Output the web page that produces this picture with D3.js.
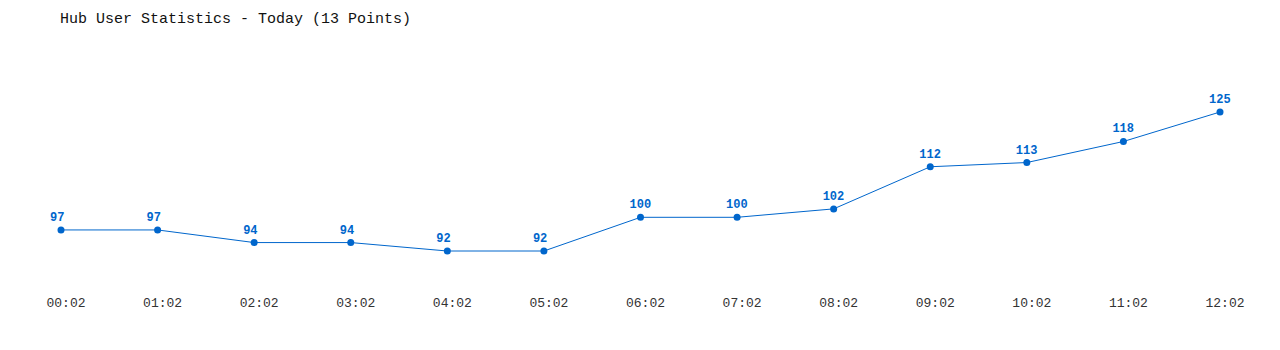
<!DOCTYPE html>
<html>
<head>
<meta charset="utf-8">
<script src="https://cdn.jsdelivr.net/npm/d3@7"></script>
<style>
  body { margin: 0; background: #fff; }
  text { font-family: "Liberation Mono", "DejaVu Sans Mono", monospace; }
  .title { font-size: 15px; fill: #111; }
  .tick-label { font-size: 13px; fill: #333; }
  .val { font-size: 12px; font-weight: bold; fill: #0066cc; }
</style>
</head>
<body>
<svg id="chart"></svg>
<script>
var times = ["00:02","01:02","02:02","03:02","04:02","05:02","06:02","07:02","08:02","09:02","10:02","11:02","12:02"];
var users = [97, 97, 94, 94, 92, 92, 100, 100, 102, 112, 113, 118, 125];

var width = 1280, height = 350;

var svg = d3.select("#chart")
  .attr("width", width)
  .attr("height", height);

svg.append("text")
  .attr("class", "title")
  .attr("x", 60)
  .attr("y", 23)
  .text("Hub User Statistics - Today (13 Points)");

var xscale = d3.scalePoint()
  .domain(times)
  .range([61, 1220]);

var yscale = d3.scaleLinear()
  .domain([d3.min(users), d3.max(users)])
  .range([251, 112]);

var data = times.map(function(t, i){ return {t: t, v: users[i]}; });

// x labels (left aligned a bit before each point, like the original)
var xaxis = d3.axisBottom(xscale).tickSize(0).tickPadding(0);
var ax = svg.append("g")
  .attr("transform", "translate(0,298)")
  .call(xaxis);
ax.select(".domain").remove();
ax.selectAll("text")
  .attr("class", "tick-label")
  .attr("dy", "0.71em")
  .attr("y", 0)
  .attr("x", -15)
  .attr("text-anchor", "start")
  .style("font-family", null)
  .style("font-size", null)
  .attr("fill", null);
ax.attr("font-family", null).attr("font-size", null).attr("text-anchor", null);

var line = d3.line()
  .x(function(d){ return xscale(d.t); })
  .y(function(d){ return yscale(d.v); });

svg.append("path")
  .datum(data)
  .attr("d", line)
  .attr("fill", "none")
  .attr("stroke", "#0066cc")
  .attr("stroke-width", 1);

svg.selectAll("circle.dot")
  .data(data)
  .enter()
  .append("circle")
  .attr("class", "dot")
  .attr("cx", function(d){ return xscale(d.t); })
  .attr("cy", function(d){ return yscale(d.v); })
  .attr("r", 3.5)
  .attr("fill", "#0066cc");

svg.selectAll("text.val")
  .data(data)
  .enter()
  .append("text")
  .attr("class", "val")
  .attr("x", function(d){ return xscale(d.t) - 11; })
  .attr("y", function(d){ return yscale(d.v) - 9; })
  .text(function(d){ return d.v; });
</script>
</body>
</html>
